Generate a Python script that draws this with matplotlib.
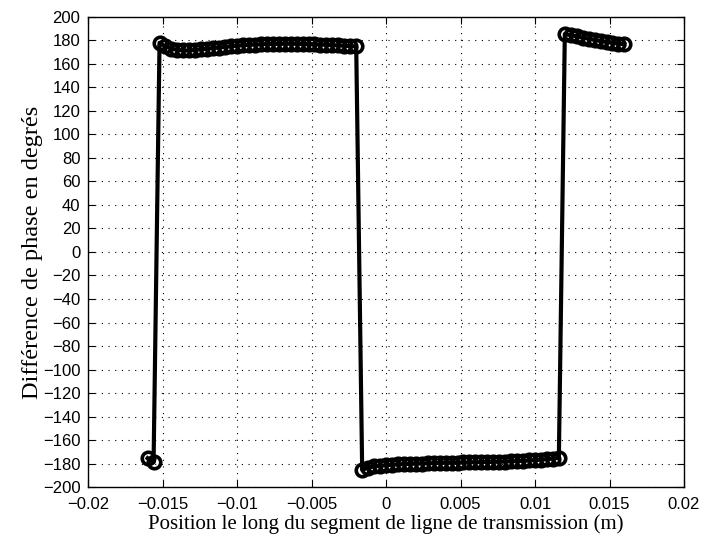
import matplotlib
matplotlib.use('Agg')
import matplotlib.pyplot as plt

# position le long de la ligne (m)
position = [
    -0.0160, -0.0156, -0.0152, -0.0148, -0.0144, -0.0140, -0.0136, -0.0132,
    -0.0128, -0.0124, -0.0120, -0.0116, -0.0112, -0.0108, -0.0104, -0.0100,
    -0.0096, -0.0092, -0.0088, -0.0084, -0.0080, -0.0076, -0.0072, -0.0068,
    -0.0064, -0.0060, -0.0056, -0.0052, -0.0048, -0.0044, -0.0040, -0.0036,
    -0.0032, -0.0028, -0.0024, -0.0020, -0.0016, -0.0012, -0.0008, -0.0004,
    0.0000, 0.0004, 0.0008, 0.0012, 0.0016, 0.0020, 0.0024, 0.0028,
    0.0032, 0.0036, 0.0040, 0.0044, 0.0048, 0.0052, 0.0056, 0.0060,
    0.0064, 0.0068, 0.0072, 0.0076, 0.0080, 0.0084, 0.0088, 0.0092,
    0.0096, 0.0100, 0.0104, 0.0108, 0.0112, 0.0116, 0.0120, 0.0124,
    0.0128, 0.0132, 0.0136, 0.0140, 0.0144, 0.0148, 0.0152, 0.0156,
    0.0160,
]

# différence de phase (degrés)
phase = [
    -175.5, -179.0, 178.0, 175.0, 173.0, 172.0, 171.5, 171.5,
    172.0, 172.5, 173.0, 173.5, 174.0, 174.5, 175.0, 175.5,
    176.0, 176.3, 176.5, 176.7, 177.0, 177.0, 177.2, 177.2,
    177.2, 177.2, 177.0, 177.0, 176.8, 176.5, 176.3, 176.0,
    175.8, 175.5, 175.2, 175.0, -185.5, -183.5, -182.5, -182.0,
    -181.5, -181.0, -180.8, -180.5, -180.3, -180.1, -180.0, -179.8,
    -179.7, -179.5, -179.4, -179.3, -179.2, -179.1, -179.0, -178.9,
    -178.8, -178.7, -178.6, -178.5, -178.3, -178.1, -177.9, -177.7,
    -177.4, -177.1, -176.7, -176.3, -175.8, -175.2, 185.5, 184.5,
    183.5, 182.5, 181.5, 180.5, 179.5, 178.7, 178.0, 177.3,
    176.8,
]

x_ticks = [-0.02, -0.015, -0.01, -0.005, 0, 0.005, 0.01, 0.015, 0.02]
x_labels = ['\u22120.02', '\u22120.015', '\u22120.01', '\u22120.005', '0',
            '0.005', '0.01', '0.015', '0.02']
y_ticks = list(range(-200, 201, 20))

fig = plt.figure(figsize=(7.03, 5.41), dpi=100)
ax = fig.add_axes([0.1252, 0.0998, 0.8478, 0.8688])

ax.plot(position, phase, color='black', linewidth=3, marker='o',
        markersize=9, markerfacecolor='none', markeredgewidth=2.6)

ax.set_xlim(-0.02, 0.02)
ax.set_ylim(-200, 200)
ax.set_xticks(x_ticks)
ax.set_xticklabels(x_labels)
ax.set_yticks(y_ticks)

ax.grid(True, color='black', linestyle=(0, (1, 5)), linewidth=0.8)
ax.tick_params(direction='in', top=True, right=True, length=5,
               labelsize=12, width=0.8)
ax.tick_params(axis='x', pad=7)
ax.tick_params(axis='y', pad=5.5)
for lab in ax.get_xticklabels() + ax.get_yticklabels():
    lab.set_fontfamily('Liberation Sans')
for sp in ax.spines.values():
    sp.set_linewidth(1.0)

ax.set_xlabel('Position le long du segment de ligne de transmission (m)',
              fontsize=15, family='Liberation Serif')
ax.set_ylabel('Différence de phase en degrés',
              fontsize=17.5, family='Liberation Serif')
ax.xaxis.set_label_coords(0.5, -0.058)
ax.yaxis.set_label_coords(-0.076, 0.5)

fig.savefig('out.png', dpi=100)
